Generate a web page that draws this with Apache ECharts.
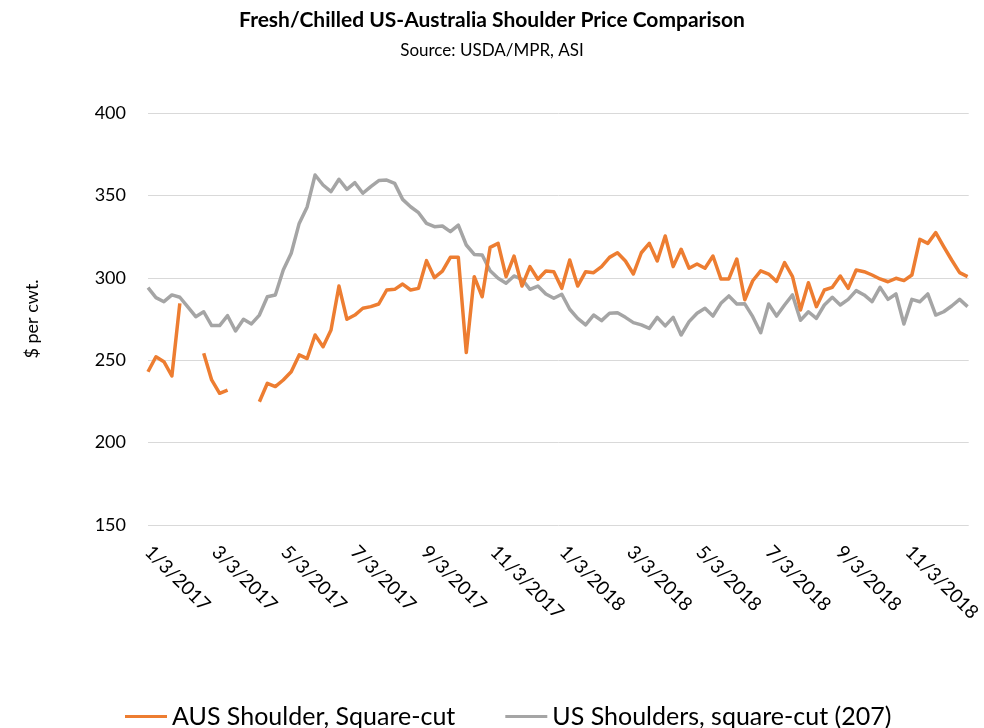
<!DOCTYPE html>
<html>
<head>
<meta charset="utf-8">
<title>Fresh/Chilled US-Australia Shoulder Price Comparison</title>
<script src="https://cdn.jsdelivr.net/npm/echarts@6/dist/echarts.min.js"></script>
<style>
  html, body { margin: 0; padding: 0; background: #ffffff; }
  #chart { width: 984px; height: 728px; }
</style>
</head>
<body>
<div id="chart"></div>
<script>
// Weekly report dates
const weeks = [
  '2017-01-03','2017-01-10','2017-01-17','2017-01-24','2017-01-31',
  '2017-02-07','2017-02-14','2017-02-21','2017-02-28',
  '2017-03-07','2017-03-14','2017-03-21','2017-03-28',
  '2017-04-04','2017-04-11','2017-04-18','2017-04-25',
  '2017-05-02','2017-05-09','2017-05-16','2017-05-23','2017-05-30',
  '2017-06-06','2017-06-13','2017-06-20','2017-06-27',
  '2017-07-04','2017-07-11','2017-07-18','2017-07-25',
  '2017-08-01','2017-08-08','2017-08-15','2017-08-22','2017-08-29',
  '2017-09-05','2017-09-12','2017-09-19','2017-09-26',
  '2017-10-03','2017-10-10','2017-10-17','2017-10-24','2017-10-31',
  '2017-11-07','2017-11-14','2017-11-21','2017-11-28',
  '2017-12-05','2017-12-12','2017-12-19','2017-12-26',
  '2018-01-02','2018-01-09','2018-01-16','2018-01-23','2018-01-30',
  '2018-02-06','2018-02-13','2018-02-20','2018-02-27',
  '2018-03-06','2018-03-13','2018-03-20','2018-03-27',
  '2018-04-03','2018-04-10','2018-04-17','2018-04-24',
  '2018-05-01','2018-05-08','2018-05-15','2018-05-22','2018-05-29',
  '2018-06-05','2018-06-12','2018-06-19','2018-06-26',
  '2018-07-03','2018-07-10','2018-07-17','2018-07-24','2018-07-31',
  '2018-08-07','2018-08-14','2018-08-21','2018-08-28',
  '2018-09-04','2018-09-11','2018-09-18','2018-09-25',
  '2018-10-02','2018-10-09','2018-10-16','2018-10-23','2018-10-30',
  '2018-11-06','2018-11-13','2018-11-20','2018-11-27',
  '2018-12-04','2018-12-11','2018-12-18','2018-12-25'
];

// AUS Shoulder, Square-cut ($/cwt); null = no quote that week
const ausShoulder = [
  243.0, 252.1, 249.1, 240.4, 284.5, null, null, 254.2, 238.0, 229.9,
  231.9, null, null, null, 224.8, 236.0, 234.0, 238.0, 243.0, 253.2,
  251.0, 265.3, 258.2, 268.3, 295.0, 274.8, 277.4, 281.5, 282.5, 284.1,
  292.6, 293.0, 296.2, 292.6, 293.6, 310.4, 300.1, 304.1, 312.4, 312.4,
  254.6, 300.7, 288.5, 318.5, 320.9, 300.7, 313.2, 295.0, 306.8, 299.1,
  304.1, 303.7, 293.6, 310.8, 295.0, 303.7, 303.1, 306.8, 312.4, 315.2,
  310.2, 302.3, 315.2, 320.9, 310.2, 325.4, 306.8, 317.3, 305.8, 308.4,
  305.8, 313.2, 299.3, 299.3, 311.4, 286.7, 298.2, 304.2, 302.3, 297.8,
  309.2, 300.7, 280.5, 297.0, 282.5, 292.6, 294.2, 301.1, 293.6, 304.7,
  303.7, 301.7, 299.3, 297.6, 299.7, 298.3, 301.7, 323.3, 320.9, 327.4,
  318.9, 310.8, 303.1, 300.7
];

// US Shoulders, square-cut (207) ($/cwt)
const usShoulders = [
  294.0, 288.0, 285.5, 289.6, 288.2, 282.3, 276.4, 279.4, 271.0, 271.0,
  277.0, 267.7, 274.8, 272.0, 277.4, 288.5, 289.6, 304.7, 314.9, 333.0,
  343.0, 362.4, 356.3, 352.3, 359.8, 353.7, 357.7, 351.3, 355.3, 359.0,
  359.3, 357.3, 347.6, 343.1, 339.5, 333.0, 331.0, 331.4, 328.0, 332.0,
  319.9, 314.2, 313.8, 304.3, 299.7, 296.7, 301.1, 299.1, 293.0, 295.0,
  290.2, 287.6, 290.0, 280.9, 275.4, 271.4, 277.4, 274.0, 278.5, 278.8,
  276.0, 272.8, 271.4, 269.3, 276.0, 270.8, 276.0, 265.3, 273.4, 278.5,
  281.5, 276.8, 284.5, 289.0, 284.1, 284.2, 276.4, 266.7, 284.1, 276.8,
  283.5, 289.6, 274.2, 279.4, 275.4, 283.5, 288.2, 283.5, 286.9, 292.2,
  289.6, 285.5, 294.2, 286.9, 290.2, 272.0, 286.9, 285.5, 290.2, 277.4,
  279.4, 282.9, 286.9, 282.5
];

// Date axis labels (every two months)
const tickDates = [
  '2017-01-03','2017-03-03','2017-05-03','2017-07-03','2017-09-03','2017-11-03',
  '2018-01-03','2018-03-03','2018-05-03','2018-07-03','2018-09-03','2018-11-03'
];

const axisStart = '2017-01-03';
const axisEnd = '2018-12-26';

const seriesNames = ['AUS Shoulder, Square-cut', 'US Shoulders, square-cut (207)'];

// The x axis is measured in days since axisStart
const DAY = 86400000;
function utc(s) {
  const p = s.split('-').map(Number);
  return Date.UTC(p[0], p[1] - 1, p[2]);
}
function dayOf(s) {
  return Math.round((utc(s) - utc(axisStart)) / DAY);
}
function fmtDay(v) {
  const d = new Date(utc(axisStart) + Math.round(v) * DAY);
  return (d.getUTCMonth() + 1) + '/' + d.getUTCDate() + '/' + d.getUTCFullYear();
}

const FONT = 'Lato, "Open Sans", "Noto Sans", sans-serif';
const chart = echarts.init(document.getElementById('chart'), null, { renderer: 'canvas' });

chart.setOption({
  animation: false,
  backgroundColor: '#ffffff',
  textStyle: { fontFamily: FONT, color: '#000000' },
  title: {
    text: 'Fresh/Chilled US-Australia Shoulder Price Comparison',
    subtext: 'Source: USDA/MPR, ASI',
    left: 'center',
    top: 5,
    itemGap: 11,
    textStyle: { fontFamily: FONT, fontSize: 21, fontWeight: 'bold', color: '#000000' },
    subtextStyle: { fontFamily: FONT, fontSize: 17, color: '#000000' }
  },
  legend: {
    top: 699,
    left: 120,
    itemWidth: 42,
    itemHeight: 3,
    itemGap: 50,
    icon: 'rect',
    textStyle: { fontFamily: FONT, fontSize: 25, color: '#000000' },
    data: seriesNames
  },
  grid: { left: 148, right: 13, top: 113, bottom: 203, containLabel: false },
  xAxis: {
    type: 'value',
    min: 0,
    max: dayOf(axisEnd),
    axisLine: { show: false },
    axisTick: { show: false },
    splitLine: { show: false },
    axisLabel: {
      customValues: tickDates.map(dayOf),
      formatter: fmtDay,
      rotate: -45,
      margin: 24,
      fontSize: 19,
      fontFamily: FONT,
      color: '#000000'
    }
  },
  yAxis: {
    type: 'value',
    min: 150,
    max: 400,
    interval: 50,
    name: '$ per cwt.',
    nameLocation: 'middle',
    nameGap: 107,
    nameRotate: 90,
    nameTextStyle: { fontFamily: FONT, fontSize: 18, color: '#000000' },
    axisLine: { show: false },
    axisTick: { show: false },
    splitLine: { lineStyle: { color: '#d9d9d9', width: 1 } },
    axisLabel: { fontSize: 18, fontFamily: FONT, color: '#000000', margin: 22 }
  },
  series: [
    {
      name: seriesNames[0],
      type: 'line',
      data: weeks.map((d, i) => [dayOf(d), ausShoulder[i]]),
      showSymbol: false,
      symbol: 'none',
      connectNulls: false,
      lineStyle: { color: '#ED7D31', width: 3.5, join: 'round' },
      itemStyle: { color: '#ED7D31' },
      z: 3
    },
    {
      name: seriesNames[1],
      type: 'line',
      data: weeks.map((d, i) => [dayOf(d), usShoulders[i]]),
      showSymbol: false,
      symbol: 'none',
      lineStyle: { color: '#A5A5A5', width: 3.5, join: 'round' },
      itemStyle: { color: '#A5A5A5' },
      z: 2
    }
  ]
});
</script>
</body>
</html>
